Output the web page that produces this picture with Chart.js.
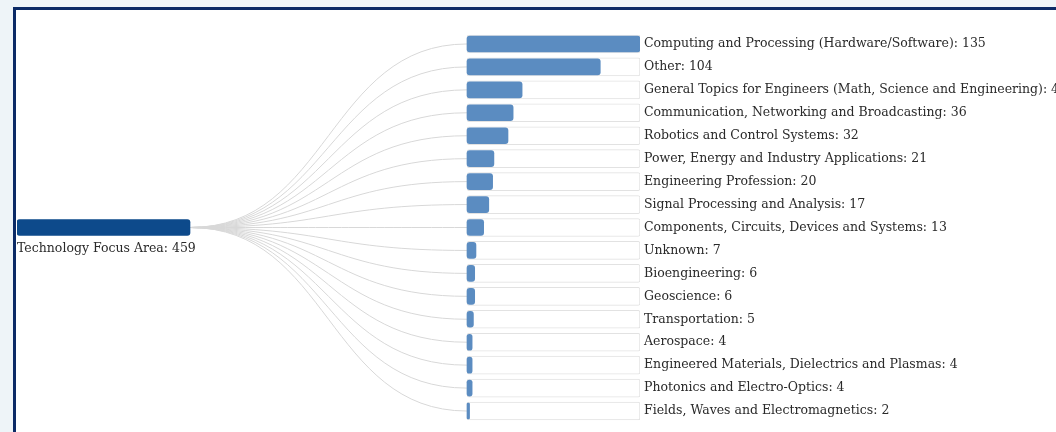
<!DOCTYPE html>
<html>
<head>
<meta charset="utf-8">
<script src="https://cdn.jsdelivr.net/npm/chart.js"></script>
<style>
  html, body { margin: 0; padding: 0; background: #eef4f8; overflow: hidden; }
  .frame { position: absolute; left: 13px; top: 7px; width: 1100px; height: 500px; background: #fff;
           border-left: 3px solid #0b2a66; border-top: 3px solid #0b2a66; }
  #tree { position: absolute; left: 0; top: 0; }
</style>
</head>
<body>
<div class="frame"></div>
<canvas id="tree" width="1056" height="432"></canvas>
<script>
const rootLabel = 'Technology Focus Area';
const rootValue = 459;
const categories = [
    'Computing and Processing (Hardware/Software)',
    'Other',
    'General Topics for Engineers (Math, Science and Engineering)',
    'Communication, Networking and Broadcasting',
    'Robotics and Control Systems',
    'Power, Energy and Industry Applications',
    'Engineering Profession',
    'Signal Processing and Analysis',
    'Components, Circuits, Devices and Systems',
    'Unknown',
    'Bioengineering',
    'Geoscience',
    'Transportation',
    'Aerospace',
    'Engineered Materials, Dielectrics and Plasmas',
    'Photonics and Electro-Optics',
    'Fields, Waves and Electromagnetics'
];
const counts = [135, 104, 43, 36, 32, 21, 20, 17, 13, 7, 6, 6, 5, 4, 4, 4, 2];

// layout (pixels)
const areaLeft = 17, areaRight = 640;
const rootWidth = 173;          // root bar length
const childLeft = 467;          // where child bars start
const rootRow = Math.floor(categories.length / 2);
const maxChild = Math.max(...counts);

const rootData = categories.map((c, i) => i === rootRow ? rootValue : null);
const trackData = categories.map(() => maxChild);

const fontSpec = '12.5px "DejaVu Serif", serif';

const treePlugin = {
    id: 'treeLinks',
    beforeDatasetsDraw(chart) {
        const ctx = chart.ctx;
        const root = chart.getDatasetMeta(2).data[rootRow];
        const tracks = chart.getDatasetMeta(1).data;
        const x0 = root.x, y0 = root.y;
        ctx.save();
        ctx.strokeStyle = '#d8d8d8';
        ctx.lineWidth = 1;
        tracks.forEach(el => {
            const x1 = el.base, y1 = el.y;
            const mx = (x0 + x1) / 2;
            ctx.beginPath();
            ctx.moveTo(x0, y0);
            ctx.bezierCurveTo(mx, y0, mx, y1, x1, y1);
            ctx.stroke();
        });
        ctx.restore();
    },
    afterDatasetsDraw(chart) {
        const ctx = chart.ctx;
        ctx.save();
        ctx.font = fontSpec;
        ctx.fillStyle = '#2a2a2a';
        ctx.textAlign = 'left';
        ctx.textBaseline = 'middle';
        chart.getDatasetMeta(1).data.forEach((el, i) => {
            ctx.fillText(categories[i] + ': ' + counts[i], el.x + 4, el.y);
        });
        const root = chart.getDatasetMeta(2).data[rootRow];
        ctx.fillText(rootLabel + ': ' + rootValue, root.base, root.y + root.height / 2 + 13);
        ctx.restore();
    }
};

new Chart(document.getElementById('tree').getContext('2d'), {
    type: 'bar',
    data: {
        labels: categories,
        datasets: [
            {
                label: 'Count',
                data: counts,
                xAxisID: 'xc',
                backgroundColor: '#5b8cc1',
                borderRadius: 3,
                borderSkipped: false,
                barThickness: 16,
                grouped: false,
                order: 1
            },
            {
                label: 'Track',
                data: trackData,
                xAxisID: 'xc',
                backgroundColor: '#ffffff',
                borderColor: '#e2e2e2',
                borderWidth: 1,
                borderRadius: 2,
                borderSkipped: false,
                barThickness: 18,
                grouped: false,
                order: 2
            },
            {
                label: rootLabel,
                data: rootData,
                xAxisID: 'xr',
                backgroundColor: '#0d4a8b',
                borderRadius: 3,
                borderSkipped: false,
                barThickness: 16,
                grouped: false,
                order: 0
            }
        ]
    },
    options: {
        indexAxis: 'y',
        responsive: false,
        animation: false,
        layout: {
            padding: { left: areaLeft, right: 1056 - areaRight, top: 32.5, bottom: 9.5 }
        },
        scales: {
            y: { type: 'category', display: false },
            xc: {
                type: 'linear', display: false,
                min: -maxChild * (childLeft - areaLeft) / (areaRight - childLeft),
                max: maxChild
            },
            xr: {
                type: 'linear', display: false,
                min: 0,
                max: rootValue * (areaRight - areaLeft) / rootWidth
            }
        },
        plugins: {
            legend: { display: false },
            tooltip: { enabled: false }
        }
    },
    plugins: [treePlugin]
});
</script>
</body>
</html>
